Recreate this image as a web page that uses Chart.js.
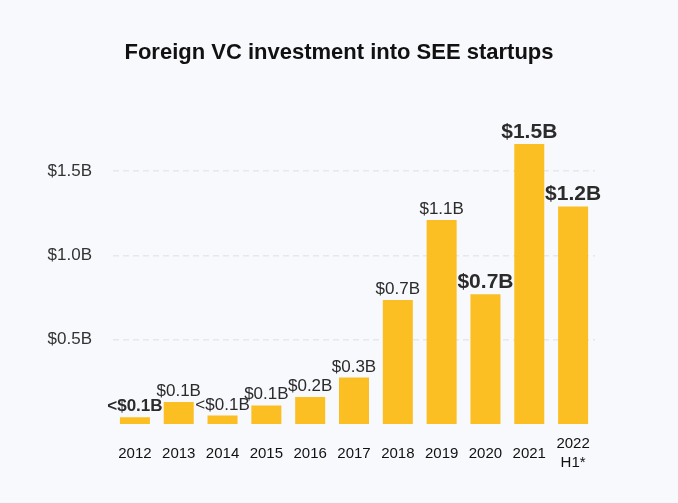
<!DOCTYPE html>
<html>
<head>
<meta charset="utf-8">
<script src="https://cdn.jsdelivr.net/npm/chart.js@4.4.0/dist/chart.umd.min.js"></script>
<style>
  html, body { margin: 0; padding: 0; background: #f8f9fd; }
  #wrap { width: 678px; height: 503px; }
</style>
</head>
<body>
<div id="wrap"><canvas id="vc-chart"></canvas></div>
<script>
// values, in $ billions
const years = ['2012', '2013', '2014', '2015', '2016', '2017', '2018', '2019', '2020', '2021', ['2022', 'H1*']];
const investment = [0.04, 0.13, 0.05, 0.11, 0.16, 0.275, 0.735, 1.21, 0.77, 1.66, 1.29];
const valueLabels = ['<$0.1B', '$0.1B', '<$0.1B', '$0.1B', '$0.2B', '$0.3B', '$0.7B', '$1.1B', '$0.7B', '$1.5B', '$1.2B'];
const boldLabels = [true, false, false, false, false, false, false, false, true, true, true];
const bigLabels = [false, false, false, false, false, false, false, false, true, true, true];
const yTicks = [0.5, 1.0, 1.5];

const FONT = '"Liberation Sans", Arial, sans-serif';

// draws the value text above each bar
const barLabels = {
    id: 'barLabels',
    afterDatasetsDraw(chart) {
        const ctx = chart.ctx;
        const meta = chart.getDatasetMeta(0);
        ctx.save();
        ctx.textAlign = 'center';
        ctx.textBaseline = 'alphabetic';
        ctx.fillStyle = '#2b2b2b';
        meta.data.forEach((bar, i) => {
            const size = bigLabels[i] ? 21 : 17;
            ctx.font = (boldLabels[i] ? 'bold ' : '') + size + 'px ' + FONT;
            ctx.fillText(valueLabels[i], bar.x, bar.y - 6);
        });
        ctx.restore();
    }
};

new Chart(document.getElementById('vc-chart'), {
    type: 'bar',
    data: {
        labels: years,
        datasets: [{
            data: investment,
            backgroundColor: '#fbbf24',
            borderWidth: 0,
            barPercentage: 0.685,
            categoryPercentage: 1
        }]
    },
    options: {
        responsive: true,
        maintainAspectRatio: false,
        animation: false,
        layout: { padding: 0 },
        plugins: {
            legend: { display: false },
            tooltip: { enabled: false },
            title: {
                display: true,
                text: 'Foreign VC investment into SEE startups',
                color: '#111',
                font: { family: FONT, size: 22, weight: 'bold', lineHeight: 1.2 },
                padding: { top: 40, bottom: 54 }
            }
        },
        scales: {
            x: {
                grid: { display: false },
                border: { display: false },
                ticks: {
                    color: '#111',
                    font: { family: FONT, size: 15, lineHeight: 1.25 },
                    maxRotation: 0,
                    crossAlign: 'center',
                    padding: 12
                },
                afterFit: (scale) => { scale.height = 79; }
            },
            y: {
                min: 0,
                max: 1.8,
                grid: {
                    color: '#e6e8ee',
                    lineWidth: 1.5,
                    drawTicks: false
                },
                border: { display: false, dash: [6, 4] },
                ticks: {
                    color: '#333',
                    padding: 21,
                    font: { family: FONT, size: 17 },
                    callback: (v) => '$' + v.toFixed(1) + 'B'
                },
                afterBuildTicks: (scale) => { scale.ticks = yTicks.map(v => ({ value: v })); },
                afterFit: (scale) => { scale.width = 113; }
            },
            // empty right-hand axis, only keeps the space on the right
            yRight: {
                position: 'right',
                grid: { display: false },
                border: { display: false },
                ticks: { display: false },
                afterFit: (scale) => { scale.width = 83; }
            }
        }
    },
    plugins: [barLabels]
});
</script>
</body>
</html>
